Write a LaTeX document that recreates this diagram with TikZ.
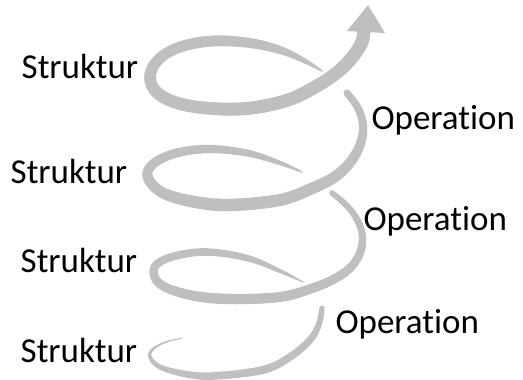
\documentclass[tikz,border=0pt]{standalone}
\usepackage{fontspec}
\setmainfont{Carlito}[Ligatures=NoCommon]

\definecolor{spiral}{HTML}{BFBFBF}

\tikzset{
  band/.style={draw=spiral, line cap=round},
  word/.style={anchor=base west, inner sep=0pt, text=black, font=\fontsize{35}{42}\selectfont}
}

% point on the current cubic piece at time #1
\newcommand\bandpoint[3]{%
  \pgfmathsetmacro\bu{1-#1}%
  \pgfmathsetmacro#2{\bu*\bu*\bu*\xb+3*\bu*\bu*#1*\xp+3*\bu*#1*#1*\xq+#1*#1*#1*\xc}%
  \pgfmathsetmacro#3{\bu*\bu*\bu*\yb+3*\bu*\bu*#1*\yp+3*\bu*#1*#1*\yq+#1*#1*#1*\yc}%
}

% smooth band through the points, width given at every point
% #1 last index, #2 x values, #3 y values, #4 widths
\newcommand\ribbon[4]{%
  \foreach \i in {1,...,#1} {
    \pgfmathtruncatemacro\ia{max(\i-2,0)}
    \pgfmathtruncatemacro\ib{\i-1}
    \pgfmathtruncatemacro\id{min(\i+1,#1)}
    \pgfmathsetmacro\xa{{#2}[\ia]}\pgfmathsetmacro\ya{{#3}[\ia]}
    \pgfmathsetmacro\xb{{#2}[\ib]}\pgfmathsetmacro\yb{{#3}[\ib]}
    \pgfmathsetmacro\xc{{#2}[\i]}\pgfmathsetmacro\yc{{#3}[\i]}
    \pgfmathsetmacro\xd{{#2}[\id]}\pgfmathsetmacro\yd{{#3}[\id]}
    \pgfmathsetmacro\wb{{#4}[\ib]}\pgfmathsetmacro\wc{{#4}[\i]}
    \pgfmathsetmacro\xp{\xb+(\xc-\xa)/6}\pgfmathsetmacro\yp{\yb+(\yc-\ya)/6}
    \pgfmathsetmacro\xq{\xc-(\xd-\xb)/6}\pgfmathsetmacro\yq{\yc-(\yd-\yb)/6}
    \foreach \s in {1,...,6} {
      \pgfmathsetmacro\ta{(\s-1)/6}
      \pgfmathsetmacro\tb{\s/6}
      \bandpoint{\ta}{\pxa}{\pya}
      \bandpoint{\tb}{\pxb}{\pyb}
      \pgfmathsetmacro\bw{\wb+(\wc-\wb)*(\s-0.5)/6}
      \draw[band, line width=\bw pt] (\pxa,\pya) -- (\pxb,\pyb);
    }
  }%
}

\begin{document}
\begin{tikzpicture}[x=1pt, y=-1pt]
\useasboundingbox (0,0) rectangle (523,380);

% lowest turn
\ribbon{11}
  {183,166,153,150,160,185,213,263,290,310,319,322}
  {338,342,349,357,367,374,376,370,357,340,324,308}
  {0.6,1.5,2.5,3.5,5,6.5,7.5,8,7.5,7,6,5}
% third turn
\ribbon{18}
  {303,280,247,207,175,156,155,167,195,230,280,313,336,352,361,362,355,344,332}
  {282,271,258,252,256,265,278,288,296,299,297,288,278,266,250,233,216,203,193}
  {1,4,6.5,7.5,8,8,8.5,9,10,10.5,10,9.5,9,8.5,8,7,6.5,6,5.5}
% second turn
\ribbon{17}
  {302,280,247,207,173,152,148,163,195,230,280,313,336,352,361,363,358,347}
  {172,163,153,149,154,165,178,193,202,205,200,188,176,160,142,125,108,93}
  {1.2,4.5,7,8.5,9,9.5,10,11,12,12.5,12,11.5,11,10,9,8,7.5,7}
% top turn up to the arrow
\ribbon{16}
  {322,303,280,250,213,180,158,150,160,190,240,285,317,340,354,362,364}
  {71,60,50,43,41,47,60,78,95,106,109,101,86,70,55,42,31}
  {1.5,5,8,10,11,11,11,11.5,12,12.5,13,13,13,13,13,13,13}
\fill[spiral] (347,31) -- (368,5) -- (385,33) -- cycle;

\node[word] (struktur1) at (21.5,78) {Struktur};
\node[word] (struktur2) at (10.5,183) {Struktur};
\node[word] (struktur3) at (20.5,272) {Struktur};
\node[word] (struktur4) at (20.5,362) {Struktur};
\node[word] (operation1) at (371.3,129) {Operation};
\node[word] (operation2) at (363.3,230) {Operation};
\node[word] (operation3) at (335.3,333) {Operation};
\end{tikzpicture}
\end{document}
